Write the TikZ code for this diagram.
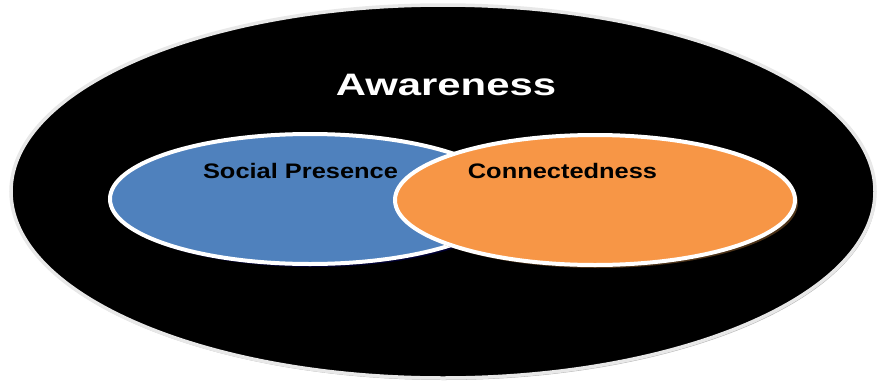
\documentclass[tikz,border=0pt]{standalone}
\usepackage{fontspec}
\setmainfont{Liberation Sans}
\definecolor{spblue}{HTML}{4F81BD}
\definecolor{cnorange}{HTML}{F79646}
\definecolor{rimgrey}{HTML}{E8E8E8}
\tikzset{
  circle label/.style={font=\bfseries\fontsize{21}{21}\selectfont, text=black, anchor=base, inner sep=0pt},
  rim/.style={draw=white, line width=4pt}
}
\begin{document}
\begin{tikzpicture}[x=1pt,y=-1pt]
      \useasboundingbox (0,0) rectangle (877,383);
      % outer set
      \fill[gray!60] (444,193.5) ellipse [x radius=432, y radius=186.5];
      \draw[draw=rimgrey, line width=3.5pt, fill=black]
        (443,191.5) ellipse [x radius=432, y radius=186.5];
      % inner sets with shadows
      \fill[black!80!blue] (313,202) ellipse [x radius=200, y radius=65];
      \draw[rim, fill=spblue] (310,199) ellipse [x radius=200, y radius=65];
      \fill[black!60!brown] (598,203) ellipse [x radius=200, y radius=65];
      \draw[rim, fill=cnorange] (595,200) ellipse [x radius=200, y radius=65];
      % labels
      \node[circle label, text=white, font=\bfseries\fontsize{31}{31}\selectfont]
        (awareness) at (446,95) {\scalebox{1.35}[1]{Awareness}};
      \node[circle label] (social) at (300.5,178) {\scalebox{1.21}[1]{Social Presence}};
      \node[circle label] (connect) at (562.5,178) {\scalebox{1.21}[1]{Connectedness}};
    \end{tikzpicture}
\end{document}
